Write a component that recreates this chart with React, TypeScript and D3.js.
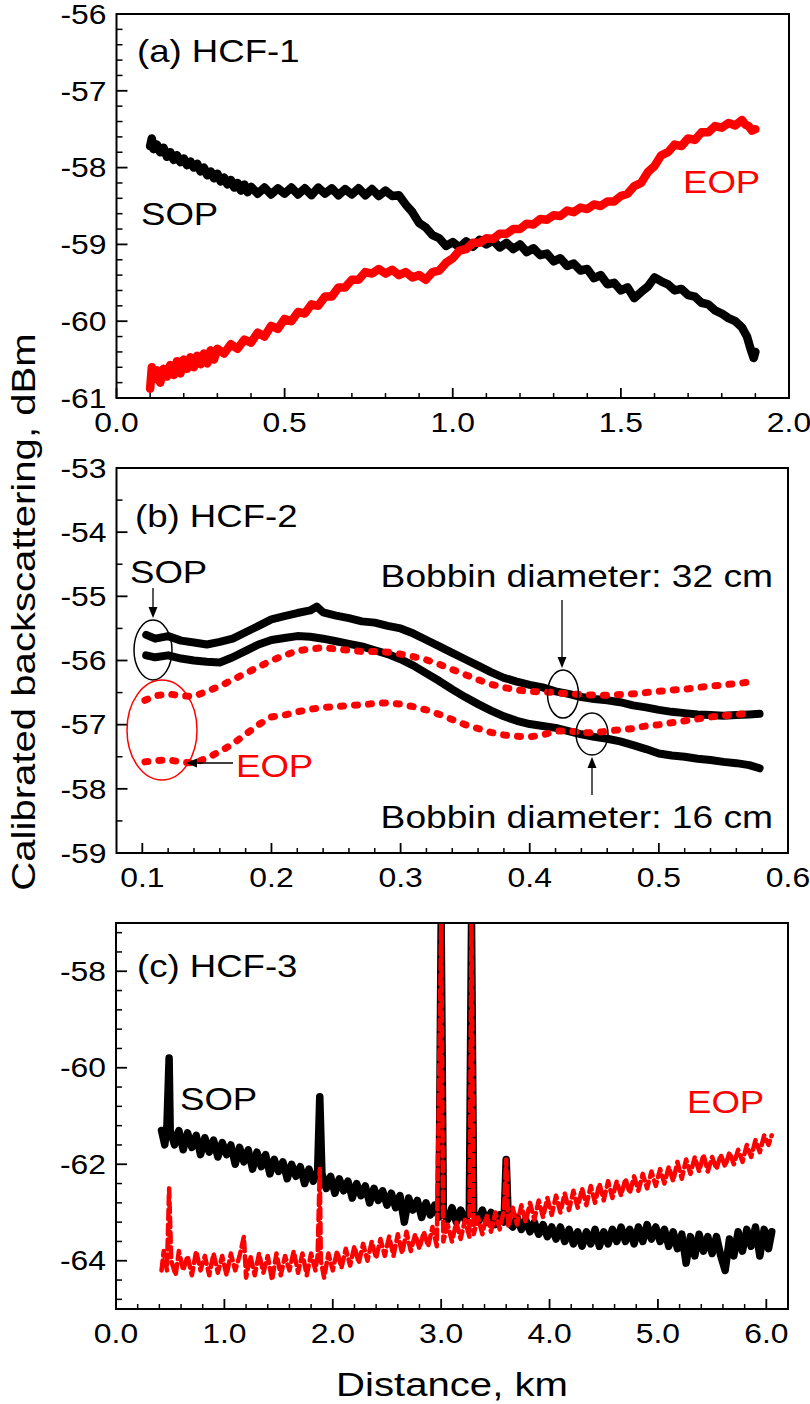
import React from "react";
import * as d3 from "d3";

const FONT = "'Liberation Sans', Arial, Helvetica, sans-serif";
const SX = 1.18;
type P = [number, number];

// ---------- Panel (a) HCF-1 ----------
const aSOP: P[] = [
  [0.1, -57.72], [0.105, -57.62], [0.11, -57.76], [0.12, -57.7], [0.13, -57.8], [0.14, -57.74], [0.15, -57.86], [0.16, -57.8],
  [0.17, -57.9], [0.18, -57.84], [0.19, -57.93], [0.2, -57.88], [0.21, -57.97], [0.22, -57.92], [0.23, -58.0], [0.24, -57.95],
  [0.25, -58.05], [0.26, -58.0], [0.27, -58.1], [0.28, -58.05], [0.29, -58.14], [0.3, -58.08], [0.31, -58.18], [0.32, -58.13],
  [0.33, -58.22], [0.34, -58.16], [0.35, -58.26], [0.36, -58.2], [0.37, -58.3], [0.38, -58.22], [0.39, -58.32], [0.4, -58.25],
  [0.42, -58.34], [0.44, -58.26], [0.46, -58.35], [0.48, -58.27], [0.5, -58.34], [0.52, -58.26], [0.54, -58.35], [0.56, -58.27],
  [0.58, -58.36], [0.6, -58.26], [0.62, -58.34], [0.64, -58.27], [0.66, -58.36], [0.68, -58.28], [0.7, -58.35], [0.72, -58.27],
  [0.74, -58.36], [0.76, -58.28], [0.78, -58.37], [0.8, -58.3], [0.82, -58.37], [0.84, -58.36], [0.86, -58.48], [0.88, -58.58],
  [0.9, -58.72], [0.92, -58.78], [0.94, -58.88], [0.96, -58.92], [0.98, -59.02], [1.0, -58.97], [1.02, -59.04], [1.04, -58.96],
  [1.06, -59.03], [1.08, -58.94], [1.1, -59.0], [1.12, -58.95], [1.14, -59.04], [1.16, -58.98], [1.18, -59.06], [1.2, -59.0],
  [1.22, -59.1], [1.24, -59.05], [1.26, -59.14], [1.28, -59.12], [1.3, -59.22], [1.32, -59.18], [1.34, -59.28], [1.36, -59.25],
  [1.38, -59.34], [1.4, -59.32], [1.42, -59.44], [1.44, -59.4], [1.46, -59.52], [1.48, -59.5], [1.5, -59.6], [1.52, -59.56],
  [1.54, -59.7], [1.56, -59.62], [1.58, -59.55], [1.6, -59.43], [1.62, -59.48], [1.64, -59.52], [1.66, -59.6], [1.68, -59.58],
  [1.7, -59.66], [1.72, -59.68], [1.74, -59.76], [1.76, -59.78], [1.78, -59.86], [1.8, -59.9], [1.82, -59.96], [1.84, -60.0],
  [1.86, -60.08], [1.875, -60.2], [1.885, -60.35], [1.895, -60.48], [1.9, -60.4]
];
const aEOP: P[] = [
  [0.1, -60.88], [0.105, -60.6], [0.11, -60.76], [0.12, -60.64], [0.13, -60.8], [0.14, -60.62], [0.15, -60.72], [0.16, -60.57],
  [0.17, -60.7], [0.18, -60.52], [0.19, -60.68], [0.2, -60.5], [0.21, -60.62], [0.22, -60.47], [0.23, -60.6], [0.24, -60.45],
  [0.25, -60.56], [0.26, -60.42], [0.27, -60.55], [0.28, -60.38], [0.29, -60.5], [0.3, -60.36], [0.32, -60.42], [0.34, -60.3],
  [0.36, -60.36], [0.38, -60.24], [0.4, -60.28], [0.42, -60.15], [0.44, -60.2], [0.46, -60.06], [0.48, -60.1], [0.5, -59.97],
  [0.52, -60.0], [0.54, -59.88], [0.56, -59.9], [0.58, -59.78], [0.6, -59.8], [0.62, -59.68], [0.64, -59.68], [0.66, -59.56],
  [0.68, -59.56], [0.7, -59.46], [0.72, -59.46], [0.74, -59.36], [0.76, -59.38], [0.78, -59.32], [0.8, -59.38], [0.82, -59.33],
  [0.84, -59.4], [0.86, -59.36], [0.88, -59.43], [0.9, -59.4], [0.92, -59.46], [0.94, -59.36], [0.96, -59.34], [0.98, -59.24],
  [1.0, -59.18], [1.02, -59.08], [1.04, -59.06], [1.06, -58.98], [1.08, -58.98], [1.1, -58.92], [1.12, -58.93], [1.14, -58.86],
  [1.16, -58.86], [1.18, -58.8], [1.2, -58.8], [1.22, -58.73], [1.24, -58.74], [1.26, -58.67], [1.28, -58.68], [1.3, -58.62],
  [1.32, -58.63], [1.34, -58.56], [1.36, -58.58], [1.38, -58.52], [1.4, -58.54], [1.42, -58.48], [1.44, -58.5], [1.46, -58.44],
  [1.48, -58.44], [1.5, -58.37], [1.52, -58.34], [1.54, -58.24], [1.56, -58.2], [1.58, -58.06], [1.6, -57.98], [1.62, -57.84],
  [1.64, -57.8], [1.66, -57.7], [1.68, -57.72], [1.7, -57.62], [1.72, -57.64], [1.74, -57.54], [1.76, -57.54], [1.78, -57.46],
  [1.8, -57.48], [1.82, -57.42], [1.84, -57.45], [1.86, -57.38], [1.87, -57.44], [1.88, -57.46], [1.89, -57.52], [1.9, -57.5]
];
const aXTicks = [0, 0.5, 1, 1.5, 2];
const aXLabels = ["0.0", "0.5", "1.0", "1.5", "2.0"];
const aYTicks = [-61, -60, -59, -58, -57, -56];
const aYLabels = ["-61", "-60", "-59", "-58", "-57", "-56"];

// ---------- Panel (b) HCF-2 ----------
const b32SOP: P[] = [
  [0.103, -55.6], [0.11, -55.66], [0.12, -55.62], [0.13, -55.69], [0.14, -55.72], [0.15, -55.75], [0.16, -55.71], [0.17, -55.66],
  [0.18, -55.56], [0.19, -55.46], [0.2, -55.36], [0.21, -55.31], [0.22, -55.26], [0.23, -55.22], [0.235, -55.16], [0.24, -55.25],
  [0.25, -55.3], [0.26, -55.34], [0.27, -55.39], [0.28, -55.41], [0.29, -55.46], [0.3, -55.5], [0.31, -55.58], [0.32, -55.68],
  [0.33, -55.78], [0.34, -55.88], [0.35, -55.98], [0.36, -56.08], [0.37, -56.18], [0.38, -56.27], [0.39, -56.33], [0.4, -56.38],
  [0.41, -56.42], [0.42, -56.48], [0.43, -56.52], [0.44, -56.57], [0.45, -56.6], [0.46, -56.62], [0.47, -56.65], [0.48, -56.7],
  [0.49, -56.73], [0.5, -56.77], [0.51, -56.8], [0.52, -56.82], [0.53, -56.84], [0.54, -56.85], [0.55, -56.86], [0.56, -56.85],
  [0.57, -56.84], [0.578, -56.83]
];
const b16SOP: P[] = [
  [0.103, -55.92], [0.11, -55.95], [0.12, -55.92], [0.13, -55.97], [0.14, -56.0], [0.15, -56.02], [0.16, -56.03], [0.17, -55.95],
  [0.18, -55.85], [0.19, -55.75], [0.2, -55.68], [0.21, -55.65], [0.22, -55.62], [0.23, -55.63], [0.24, -55.66], [0.25, -55.7],
  [0.26, -55.74], [0.27, -55.78], [0.28, -55.84], [0.29, -55.9], [0.3, -55.98], [0.31, -56.08], [0.32, -56.2], [0.33, -56.32],
  [0.34, -56.45], [0.35, -56.57], [0.36, -56.68], [0.37, -56.78], [0.38, -56.87], [0.39, -56.94], [0.4, -56.99], [0.41, -57.02],
  [0.42, -57.05], [0.43, -57.1], [0.44, -57.15], [0.45, -57.19], [0.46, -57.22], [0.47, -57.26], [0.48, -57.32], [0.49, -57.38],
  [0.5, -57.45], [0.51, -57.48], [0.52, -57.5], [0.53, -57.53], [0.54, -57.55], [0.55, -57.58], [0.56, -57.6], [0.57, -57.63],
  [0.578, -57.68]
];
const b32EOP: P[] = [
  [0.102, -56.62], [0.11, -56.55], [0.12, -56.52], [0.13, -56.55], [0.14, -56.56], [0.15, -56.48], [0.16, -56.4], [0.17, -56.3],
  [0.18, -56.2], [0.19, -56.1], [0.2, -56.0], [0.21, -55.92], [0.22, -55.85], [0.23, -55.82], [0.24, -55.8], [0.25, -55.82],
  [0.26, -55.84], [0.27, -55.86], [0.28, -55.86], [0.29, -55.87], [0.3, -55.9], [0.31, -55.94], [0.32, -55.99], [0.33, -56.06],
  [0.34, -56.14], [0.35, -56.22], [0.36, -56.3], [0.37, -56.37], [0.38, -56.42], [0.39, -56.46], [0.4, -56.48], [0.41, -56.49],
  [0.42, -56.5], [0.43, -56.52], [0.44, -56.53], [0.45, -56.54], [0.46, -56.54], [0.47, -56.53], [0.48, -56.52], [0.49, -56.5],
  [0.5, -56.48], [0.51, -56.46], [0.52, -56.45], [0.53, -56.42], [0.54, -56.4], [0.55, -56.38], [0.56, -56.36], [0.573, -56.33]
];
const b16EOP: P[] = [
  [0.102, -57.58], [0.11, -57.56], [0.12, -57.55], [0.13, -57.58], [0.14, -57.6], [0.15, -57.52], [0.16, -57.42], [0.17, -57.3],
  [0.18, -57.15], [0.19, -57.0], [0.2, -56.88], [0.21, -56.85], [0.22, -56.8], [0.23, -56.76], [0.24, -56.73], [0.25, -56.72],
  [0.26, -56.7], [0.27, -56.69], [0.28, -56.67], [0.29, -56.66], [0.3, -56.68], [0.31, -56.72], [0.32, -56.77], [0.33, -56.84],
  [0.34, -56.92], [0.35, -57.0], [0.36, -57.06], [0.37, -57.12], [0.38, -57.16], [0.39, -57.18], [0.4, -57.19], [0.41, -57.16],
  [0.42, -57.1], [0.43, -57.1], [0.44, -57.12], [0.45, -57.13], [0.46, -57.1], [0.47, -57.08], [0.48, -57.06], [0.49, -57.02],
  [0.5, -57.0], [0.51, -56.97], [0.52, -56.94], [0.53, -56.91], [0.54, -56.88], [0.55, -56.86], [0.56, -56.84], [0.573, -56.82]
];
const bXTicks = [0.1, 0.2, 0.3, 0.4, 0.5, 0.6];
const bXLabels = ["0.1", "0.2", "0.3", "0.4", "0.5", "0.6"];
const bYTicks = [-59, -58, -57, -56, -55, -54, -53];
const bYLabels = ["-59", "-58", "-57", "-56", "-55", "-54", "-53"];

// ---------- Panel (c) HCF-3 ----------
const cSOP: P[] = [
  [0.42, -61.3], [0.45, -61.6], [0.47, -61.2], [0.49, -59.8], [0.5, -61.3], [0.54, -61.6], [0.58, -61.3], [0.62, -61.7],
  [0.66, -61.35], [0.7, -61.65], [0.74, -61.4], [0.78, -61.8], [0.82, -61.45], [0.86, -61.75], [0.9, -61.5], [0.94, -61.85],
  [0.98, -61.55], [1.02, -61.8], [1.06, -61.6], [1.1, -62.0], [1.14, -61.65], [1.18, -61.95], [1.22, -61.7], [1.26, -62.1],
  [1.3, -61.75], [1.34, -62.05], [1.38, -61.8], [1.42, -62.2], [1.46, -61.9], [1.5, -62.15], [1.54, -61.95], [1.58, -62.3],
  [1.62, -62.0], [1.66, -62.25], [1.7, -62.05], [1.74, -62.4], [1.78, -62.1], [1.82, -62.35], [1.86, -62.15], [1.88, -60.6],
  [1.9, -62.2], [1.94, -62.5], [1.98, -62.25], [2.02, -62.6], [2.06, -62.3], [2.1, -62.55], [2.14, -62.35], [2.18, -62.7],
  [2.22, -62.4], [2.26, -62.65], [2.3, -62.45], [2.34, -62.8], [2.38, -62.5], [2.42, -62.75], [2.46, -62.55], [2.5, -62.85],
  [2.54, -62.6], [2.58, -62.9], [2.62, -62.65], [2.66, -63.2], [2.7, -62.7], [2.74, -62.95], [2.78, -62.75], [2.82, -63.1],
  [2.86, -62.8], [2.9, -63.05], [2.94, -62.85], [2.98, -63.1], [3.0, -57.0], [3.02, -63.0], [3.06, -63.15], [3.1, -62.9],
  [3.14, -63.2], [3.18, -62.95], [3.22, -63.15], [3.26, -63.0], [3.28, -57.0], [3.3, -63.0], [3.34, -63.2], [3.38, -62.95],
  [3.42, -63.2], [3.46, -63.0], [3.5, -63.25], [3.54, -63.05], [3.58, -63.2], [3.6, -61.9], [3.62, -63.2], [3.66, -63.3],
  [3.7, -63.1], [3.74, -63.35], [3.78, -63.15], [3.82, -63.4], [3.86, -63.2], [3.9, -63.45], [3.94, -63.25], [3.98, -63.5],
  [4.02, -63.3], [4.06, -63.55], [4.1, -63.3], [4.14, -63.6], [4.18, -63.35], [4.22, -63.65], [4.26, -63.4], [4.3, -63.7],
  [4.34, -63.4], [4.38, -63.65], [4.42, -63.35], [4.46, -63.7], [4.5, -63.4], [4.54, -63.65], [4.58, -63.35], [4.62, -63.6],
  [4.66, -63.3], [4.7, -63.6], [4.74, -63.35], [4.78, -63.65], [4.82, -63.3], [4.86, -63.6], [4.9, -63.25], [4.94, -63.55],
  [4.98, -63.3], [5.02, -63.6], [5.06, -63.35], [5.1, -63.7], [5.14, -63.4], [5.18, -63.75], [5.22, -63.45], [5.26, -64.05],
  [5.3, -63.5], [5.34, -63.9], [5.38, -63.45], [5.42, -63.8], [5.46, -63.5], [5.5, -63.85], [5.54, -63.5], [5.58, -63.9],
  [5.62, -64.2], [5.66, -63.55], [5.7, -63.9], [5.74, -63.4], [5.78, -63.8], [5.82, -63.35], [5.86, -63.7], [5.9, -63.3],
  [5.94, -63.9], [5.98, -63.35], [6.02, -63.75], [6.05, -63.4]
];
const cEOP: P[] = [
  [0.42, -64.2], [0.44, -63.8], [0.47, -64.2], [0.49, -62.5], [0.51, -64.0], [0.55, -64.3], [0.58, -63.8], [0.62, -64.2],
  [0.66, -63.9], [0.7, -64.3], [0.74, -63.8], [0.78, -64.2], [0.82, -63.9], [0.86, -64.3], [0.9, -63.85], [0.94, -64.25],
  [0.98, -63.9], [1.02, -64.3], [1.06, -63.85], [1.1, -64.2], [1.14, -63.9], [1.18, -63.5], [1.2, -64.35], [1.24, -63.9],
  [1.28, -64.3], [1.32, -63.85], [1.36, -64.25], [1.4, -63.9], [1.44, -64.4], [1.48, -63.85], [1.52, -64.3], [1.56, -63.9],
  [1.6, -64.2], [1.64, -63.8], [1.68, -64.25], [1.72, -63.85], [1.76, -64.3], [1.8, -63.85], [1.84, -64.2], [1.86, -63.9],
  [1.88, -62.1], [1.89, -64.0], [1.92, -64.35], [1.96, -63.85], [2.0, -64.2], [2.04, -63.8], [2.08, -64.15], [2.12, -63.75],
  [2.16, -64.1], [2.2, -63.7], [2.24, -64.05], [2.28, -63.65], [2.32, -64.0], [2.36, -63.6], [2.4, -63.95], [2.44, -63.55],
  [2.48, -63.9], [2.52, -63.5], [2.56, -63.9], [2.6, -63.45], [2.64, -63.85], [2.68, -63.4], [2.72, -63.8], [2.76, -63.45],
  [2.8, -63.75], [2.84, -63.4], [2.88, -63.7], [2.92, -63.3], [2.96, -63.7], [3.0, -57.0], [3.02, -63.6], [3.06, -63.25],
  [3.1, -63.6], [3.14, -63.2], [3.18, -63.55], [3.22, -63.15], [3.26, -63.5], [3.28, -57.0], [3.3, -63.45], [3.34, -63.1],
  [3.38, -63.45], [3.42, -63.05], [3.46, -63.4], [3.5, -63.0], [3.54, -63.35], [3.58, -62.95], [3.6, -61.9], [3.62, -63.3],
  [3.66, -62.9], [3.7, -63.25], [3.74, -62.85], [3.78, -63.2], [3.82, -62.8], [3.86, -63.15], [3.9, -62.75], [3.94, -63.1],
  [3.98, -62.7], [4.02, -63.05], [4.06, -62.65], [4.1, -63.0], [4.14, -62.6], [4.18, -62.95], [4.22, -62.55], [4.26, -62.9],
  [4.3, -62.5], [4.34, -62.85], [4.38, -62.45], [4.42, -62.8], [4.46, -62.4], [4.5, -62.75], [4.54, -62.35], [4.58, -62.7],
  [4.62, -62.35], [4.66, -62.65], [4.7, -62.3], [4.74, -62.6], [4.78, -62.25], [4.82, -62.55], [4.86, -62.2], [4.9, -62.5],
  [4.94, -62.15], [4.98, -62.45], [5.02, -62.1], [5.06, -62.4], [5.1, -62.05], [5.14, -62.35], [5.18, -61.95], [5.22, -62.3],
  [5.26, -61.9], [5.3, -62.2], [5.34, -61.85], [5.38, -62.15], [5.42, -61.8], [5.46, -62.15], [5.5, -61.85], [5.54, -62.1],
  [5.58, -61.8], [5.62, -62.05], [5.66, -61.75], [5.7, -62.0], [5.74, -61.7], [5.78, -61.95], [5.82, -61.6], [5.86, -61.85],
  [5.9, -61.5], [5.94, -61.75], [5.98, -61.4], [6.02, -61.6], [6.05, -61.4]
];
const cXTicks = [0, 1, 2, 3, 4, 5, 6];
const cXLabels = ["0.0", "1.0", "2.0", "3.0", "4.0", "5.0", "6.0"];
const cYTicks = [-64, -62, -60, -58];
const cYLabels = ["-64", "-62", "-60", "-58"];

// ---------- helpers ----------
function Txt(props: { x: number; y: number; size: number; fill?: string; anchor?: string; rotate?: number; dy?: string; children: any }) {
  const { x, y, size, fill = "#000", anchor = "start", rotate = 0, dy, children } = props;
  return (
    <g transform={`translate(${x},${y})${rotate ? ` rotate(${rotate})` : ""} scale(${SX},1)`}>
      <text fontFamily={FONT} fontSize={size} fill={fill} textAnchor={anchor as any} dy={dy}>
        {children}
      </text>
    </g>
  );
}

function Arrow({ x1, y1, x2, y2, color = "#000" }: { x1: number; y1: number; x2: number; y2: number; color?: string }) {
  const dx = x2 - x1, dy = y2 - y1;
  const L = Math.sqrt(dx * dx + dy * dy);
  const ux = dx / L, uy = dy / L;
  const hl = 11, hw = 4.5;
  const bx = x2 - ux * hl, by = y2 - uy * hl;
  const pts = `${x2},${y2} ${bx - uy * hw},${by + ux * hw} ${bx + uy * hw},${by - ux * hw}`;
  return (
    <g>
      <line x1={x1} y1={y1} x2={bx} y2={by} stroke={color} strokeWidth={1.3} />
      <polygon points={pts} fill={color} />
    </g>
  );
}

type PanelProps = {
  id: string;
  box: { l: number; r: number; t: number; b: number };
  xDom: [number, number];
  yDom: [number, number];
  xTicks: number[];
  xLabels: string[];
  xMinor: number[];
  yTicks: number[];
  yLabels: string[];
  yMinor: number[];
  draw: (x: d3.ScaleLinear<number, number>, y: d3.ScaleLinear<number, number>) => any;
};

function Panel({ id, box, xDom, yDom, xTicks, xLabels, xMinor, yTicks, yLabels, yMinor, draw }: PanelProps) {
  const x = d3.scaleLinear().domain(xDom).range([box.l, box.r]);
  const y = d3.scaleLinear().domain(yDom).range([box.b, box.t]);
  return (
    <g>
      <defs>
        <clipPath id={id}>
          <rect x={box.l} y={box.t} width={box.r - box.l} height={box.b - box.t} />
        </clipPath>
      </defs>
      <g clipPath={`url(#${id})`}>{draw(x, y)}</g>
      <rect x={box.l} y={box.t} width={box.r - box.l} height={box.b - box.t} fill="none" stroke="#000" strokeWidth={2} />
      {xMinor.map((v, i) => (
        <line key={"xm" + i} x1={x(v)} x2={x(v)} y1={box.b} y2={box.b - 5} stroke="#000" strokeWidth={1.5} />
      ))}
      {xTicks.map((v, i) => (
        <g key={"xt" + i}>
          <line x1={x(v)} x2={x(v)} y1={box.b} y2={box.b - 10} stroke="#000" strokeWidth={1.8} />
          <Txt x={x(v)} y={box.b + 34} size={27} anchor="middle">{xLabels[i]}</Txt>
        </g>
      ))}
      {yMinor.map((v, i) => (
        <line key={"ym" + i} x1={box.l} x2={box.l + 6} y1={y(v)} y2={y(v)} stroke="#000" strokeWidth={1.5} />
      ))}
      {yTicks.map((v, i) => (
        <g key={"yt" + i}>
          <line x1={box.l} x2={box.l + 11} y1={y(v)} y2={y(v)} stroke="#000" strokeWidth={1.8} />
          <Txt x={box.l - 10} y={y(v)} size={27} anchor="end" dy="0.36em">{yLabels[i]}</Txt>
        </g>
      ))}
    </g>
  );
}

function mk(x: any, y: any) {
  return d3.line<P>().x((d) => x(d[0])).y((d) => y(d[1]));
}

export default function App() {
  const A = { l: 116.5, r: 789, t: 14, b: 398 };
  const B = { l: 116.5, r: 788, t: 468, b: 853 };
  const C = { l: 116, r: 788, t: 923, b: 1309 };

  const aXMinor = d3.range(0.1, 2, 0.1).filter((v) => Math.abs(v * 2 - Math.round(v * 2)) > 1e-6);
  const aYMinor = d3.range(-60.8, -56, 0.2).filter((v) => Math.abs(v - Math.round(v)) > 1e-6);
  const bXMinor = d3.range(0.12, 0.6, 0.02).filter((v) => Math.abs(v * 10 - Math.round(v * 10)) > 1e-6);
  const bYMinor = d3.range(-58.5, -53, 1);
  const cXMinor = d3.range(0.2, 6.2, 0.2).filter((v) => Math.abs(v - Math.round(v)) > 1e-6);
  const cYMinor = d3.range(-64.8, -57, 0.4).filter((v) => Math.abs((v + 64) / 2 - Math.round((v + 64) / 2)) > 1e-6);

  return (
    <svg width={810} height={1404} style={{ position: "absolute", left: 0, top: 0, background: "#fff" }}>
      <rect width={810} height={1404} fill="#fff" />
      <Panel
        id="clipA" box={A} xDom={[0, 2]} yDom={[-61, -56]}
        xTicks={aXTicks} xLabels={aXLabels} xMinor={aXMinor}
        yTicks={aYTicks} yLabels={aYLabels} yMinor={aYMinor}
        draw={(x, y) => {
          const l = mk(x, y);
          return (
            <g fill="none" strokeLinejoin="round" strokeLinecap="round">
              <path d={l(aSOP) || ""} stroke="#000" strokeWidth={8.5} />
              <path d={l(aEOP) || ""} stroke="#ff0000" strokeWidth={8.5} />
            </g>
          );
        }}
      />
      <Txt x={137} y={62} size={31}>(a) HCF-1</Txt>
      <Txt x={141} y={225} size={31}>SOP</Txt>
      <Txt x={683} y={193} size={31} fill="#ff0000">EOP</Txt>

      <Panel
        id="clipB" box={B} xDom={[0.08, 0.6]} yDom={[-59, -53]}
        xTicks={bXTicks} xLabels={bXLabels} xMinor={bXMinor}
        yTicks={bYTicks} yLabels={bYLabels} yMinor={bYMinor}
        draw={(x, y) => {
          const l = mk(x, y);
          return (
            <g fill="none" strokeLinejoin="round" strokeLinecap="round">
              <path d={l(b32SOP) || ""} stroke="#000" strokeWidth={8} />
              <path d={l(b16SOP) || ""} stroke="#000" strokeWidth={8} />
              <path d={l(b32EOP) || ""} stroke="#ff0000" strokeWidth={7} strokeDasharray="3,11" />
              <path d={l(b16EOP) || ""} stroke="#ff0000" strokeWidth={7} strokeDasharray="3,11" />
            </g>
          );
        }}
      />
      <Txt x={135} y={527} size={31}>(b) HCF-2</Txt>
      <Txt x={130} y={583} size={31}>SOP</Txt>
      <Arrow x1={153} y1={588} x2={153} y2={618} />
      <ellipse cx={153} cy={650} rx={19} ry={30} fill="none" stroke="#000" strokeWidth={1.5} />
      <ellipse cx={162} cy={730} rx={35} ry={50} fill="none" stroke="#ff0000" strokeWidth={1.5} />
      <Arrow x1={233} y1={763} x2={186} y2={763} />
      <Txt x={236} y={777} size={31} fill="#ff0000">EOP</Txt>
      <Txt x={773} y={587} size={31.5} anchor="end">Bobbin diameter: 32 cm</Txt>
      <Arrow x1={562} y1={600} x2={562} y2={668} />
      <ellipse cx={563} cy={694} rx={15.5} ry={24} fill="none" stroke="#000" strokeWidth={1.5} />
      <ellipse cx={592} cy={734} rx={16} ry={21} fill="none" stroke="#000" strokeWidth={1.5} />
      <Arrow x1={592} y1={795} x2={592} y2={757} />
      <Txt x={773} y={828} size={31.5} anchor="end">Bobbin diameter: 16 cm</Txt>

      <Panel
        id="clipC" box={C} xDom={[0, 6.2]} yDom={[-65, -57]}
        xTicks={cXTicks} xLabels={cXLabels} xMinor={cXMinor}
        yTicks={cYTicks} yLabels={cYLabels} yMinor={cYMinor}
        draw={(x, y) => {
          const l = mk(x, y);
          return (
            <g fill="none" strokeLinejoin="round" strokeLinecap="round">
              <path d={l(cSOP) || ""} stroke="#000" strokeWidth={7.5} />
              <path d={l(cEOP) || ""} stroke="#ff0000" strokeWidth={4.5} strokeDasharray="10,5" />
            </g>
          );
        }}
      />
      <Txt x={137} y={977} size={31}>(c) HCF-3</Txt>
      <Txt x={180} y={1110} size={31}>SOP</Txt>
      <Txt x={687} y={1113} size={31} fill="#ff0000">EOP</Txt>

      <Txt x={452} y={1396} size={34} anchor="middle">Distance, km</Txt>
      <Txt x={35} y={612} size={34} anchor="middle" rotate={-90}>Calibrated backscattering, dBm</Txt>
    </svg>
  );
}
